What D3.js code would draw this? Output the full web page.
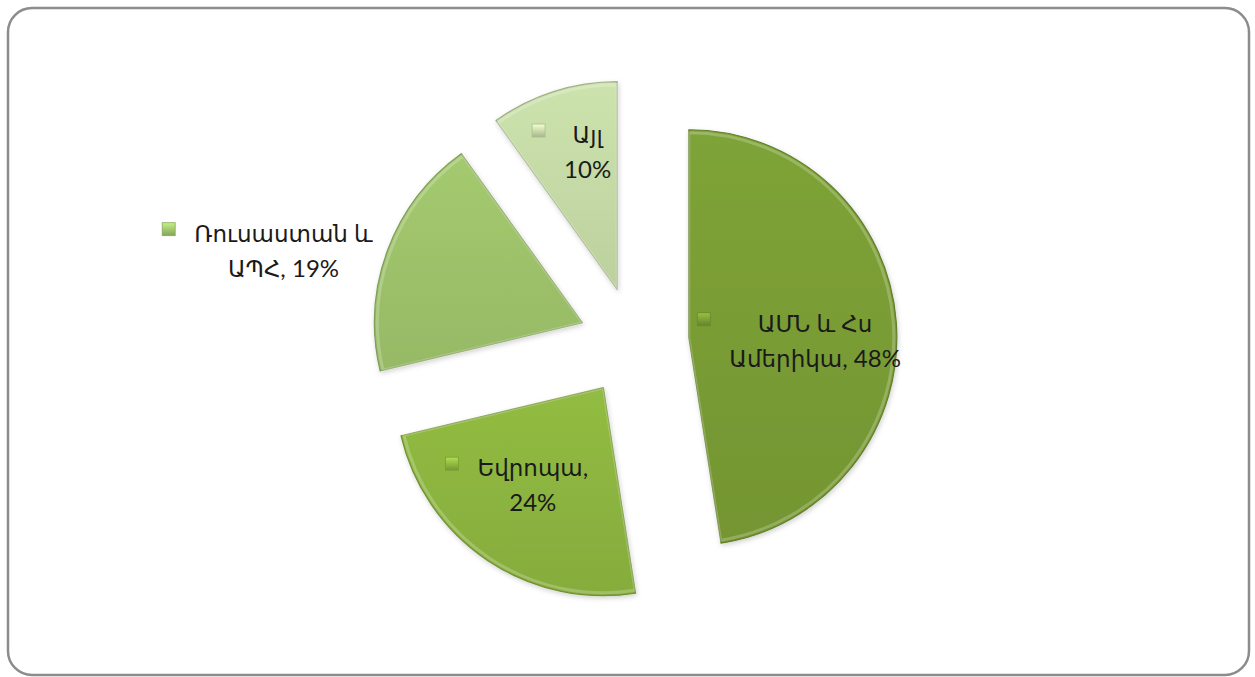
<!DOCTYPE html>
<html>
<head>
<meta charset="utf-8">
<script src="https://cdnjs.cloudflare.com/ajax/libs/d3/7.8.5/d3.min.js"></script>
<style>
    body { margin: 0; background: #ffffff; }
    svg text { font-family: Lato, "DejaVu Sans", sans-serif; font-size: 24px; fill: #1a1a1a; }
    svg tspan.hy { font-family: "DejaVu Sans", sans-serif; font-size: 23px; }
</style>
</head>
<body>
<svg id="chart" width="1255" height="677"></svg>
<script>
const width = 1255;
const height = 677;

// data
const regions = ["ԱՄՆ և Հս Ամերիկա", "Եվրոպա", "Ռուսաստան և ԱՊՀ", "Այլ"];
const shares = [48, 24, 19, 10];
const labelLines = [
    ["ԱՄՆ և Հս", "Ամերիկա, 48%"],
    ["Եվրոպա,", "24%"],
    ["Ռուսաստան և", "ԱՊՀ, 19%"],
    ["Այլ", "10%"]
];

const sliceColors = ["#7a9d35", "#8db540", "#9ec36b", "#c6dba7"];

// where Excel put each label: fraction of the radius, and turn from the slice bisector (deg)
const labelRadius = [0.535, 0.62, 1.55, 0.70];
const labelTurn = [5.5, 7.7, -7.4, 0];

const svg = d3.select("#chart");

// chart frame
svg.append("rect")
    .attr("x", 8)
    .attr("y", 8)
    .attr("width", width - 14)
    .attr("height", height - 10)
    .attr("rx", 24)
    .attr("fill", "#ffffff")
    .attr("stroke", "#8c8c8c")
    .attr("stroke-width", 2.5);

const defs = svg.append("defs");

const shadow = defs.append("filter").attr("id", "shadow")
    .attr("x", "-20%").attr("y", "-20%").attr("width", "140%").attr("height", "140%");
shadow.append("feDropShadow")
    .attr("dx", 1).attr("dy", 2).attr("stdDeviation", 2.5)
    .attr("flood-color", "#000").attr("flood-opacity", 0.18);

sliceColors.forEach(function (c, i) {
    const g = defs.append("linearGradient")
        .attr("id", "grad" + i)
        .attr("x1", 0).attr("y1", 0).attr("x2", 0).attr("y2", 1);
    g.append("stop").attr("offset", "0%").attr("stop-color", d3.color(c).brighter(0.1));
    g.append("stop").attr("offset", "100%").attr("stop-color", d3.color(c).darker(0.15));

    const k = defs.append("linearGradient")
        .attr("id", "key" + i)
        .attr("x1", 0).attr("y1", 0).attr("x2", 0).attr("y2", 1);
    k.append("stop").attr("offset", "0%").attr("stop-color", d3.color(c).brighter(0.6));
    k.append("stop").attr("offset", "100%").attr("stop-color", d3.color(c).darker(0.5));
});

const cx = 634;
const cy = 342;
const radius = 208;
const explode = 55;

const pie = d3.pie().sort(null).value(function (d) { return d; });
const arcs = pie(shares);

const arc = d3.arc().innerRadius(0).outerRadius(radius);

function midAngle(d) {
    return (d.startAngle + d.endAngle) / 2;
}

function polar(a, dist) {
    return [dist * Math.sin(a), -dist * Math.cos(a)];
}

const slices = svg.append("g")
    .attr("transform", "translate(" + cx + "," + cy + ")");

slices.selectAll("path.slice").data(arcs).enter()
    .append("path")
    .attr("class", "slice")
    .attr("transform", function (d) {
        const o = polar(midAngle(d), explode);
        return "translate(" + o[0] + "," + o[1] + ")";
    })
    .attr("d", arc)
    .attr("fill", function (d, i) { return "url(#grad" + i + ")"; })
    .attr("stroke", function (d, i) { return d3.color(sliceColors[i]).darker(0.6); })
    .attr("stroke-width", 1.2)
    .attr("stroke-linejoin", "round")
    .attr("filter", "url(#shadow)");

// inner rim highlight for a soft bevel look
slices.selectAll("path.rim").data(arcs).enter()
    .append("path")
    .attr("class", "rim")
    .attr("transform", function (d) {
        const o = polar(midAngle(d), explode);
        return "translate(" + o[0] + "," + o[1] + ")";
    })
    .attr("d", d3.arc().innerRadius(0).outerRadius(radius - 3))
    .attr("fill", "none")
    .attr("stroke", "#ffffff")
    .attr("stroke-opacity", 0.22)
    .attr("stroke-width", 3);

const labels = slices.selectAll("g.label").data(arcs).enter()
    .append("g")
    .attr("class", "label")
    .attr("transform", function (d, i) {
        const o = polar(midAngle(d), explode);
        const p = polar(midAngle(d) + labelTurn[i] * Math.PI / 180, radius * labelRadius[i]);
        return "translate(" + (o[0] + p[0]) + "," + (o[1] + p[1]) + ")";
    });

labels.each(function (d, i) {
    const g = d3.select(this);
    const lines = labelLines[i];
    let maxW = 0;
    lines.forEach(function (line, j) {
        const t = g.append("text")
            .attr("x", 15)
            .attr("y", -8 + j * 35)
            .attr("text-anchor", "middle");
        // Armenian runs and digits/signs in separate runs
        line.split(/([\u0530-\u058F]+)/).forEach(function (run) {
            if (run === "") return;
            t.append("tspan")
                .attr("class", /[\u0530-\u058F]/.test(run) ? "hy" : null)
                .text(run);
        });
        maxW = Math.max(maxW, t.node().getComputedTextLength());
    });
    g.append("rect")
        .attr("x", 15 - maxW / 2 - 32)
        .attr("y", -8 - 19)
        .attr("width", 13)
        .attr("height", 13)
        .attr("fill", "url(#key" + i + ")")
        .attr("stroke", d3.color(sliceColors[i]).darker(0.4))
        .attr("stroke-width", 0.8);
});
</script>
</body>
</html>
